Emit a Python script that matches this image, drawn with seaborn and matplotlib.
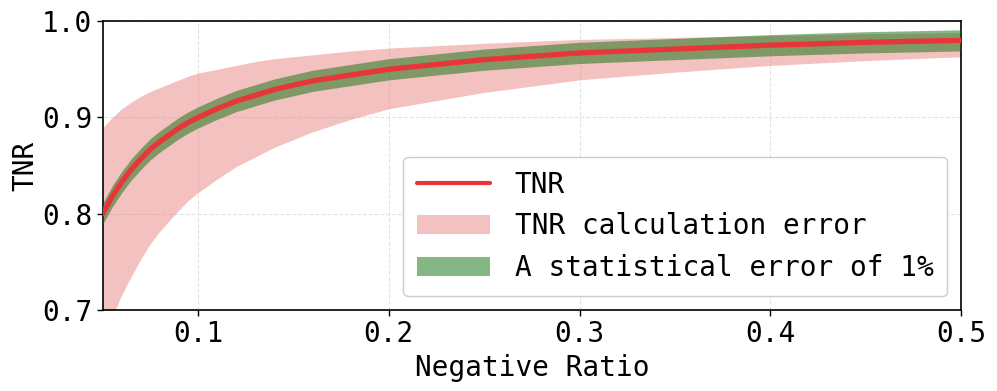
import numpy as np
import pandas as pd
import seaborn as sns
from matplotlib import pyplot as plt

# values
ratio = [0.05, 0.055, 0.06, 0.065, 0.07, 0.075, 0.08, 0.085, 0.09, 0.095,
         0.1, 0.11, 0.12, 0.13, 0.14, 0.16, 0.18, 0.2, 0.25, 0.3,
         0.35, 0.4, 0.45, 0.5]
tnr = [0.800, 0.818, 0.833, 0.846, 0.857, 0.867, 0.875, 0.882, 0.889, 0.895,
       0.900, 0.909, 0.917, 0.923, 0.929, 0.938, 0.944, 0.950, 0.960, 0.967,
       0.971, 0.975, 0.978, 0.980]
calc_hi = [0.889, 0.900, 0.909, 0.916, 0.922, 0.927, 0.931, 0.935, 0.939, 0.943,
           0.946, 0.950, 0.954, 0.958, 0.961, 0.965, 0.969, 0.972, 0.977, 0.981,
           0.983, 0.985, 0.987, 0.988]
calc_lo = [0.668, 0.692, 0.716, 0.735, 0.753, 0.769, 0.782, 0.793, 0.804, 0.814,
           0.822, 0.836, 0.849, 0.859, 0.869, 0.885, 0.898, 0.909, 0.926, 0.939,
           0.947, 0.954, 0.959, 0.963]
stat_hi = [0.811, 0.829, 0.844, 0.857, 0.868, 0.878, 0.886, 0.893, 0.900, 0.906,
           0.911, 0.920, 0.928, 0.934, 0.940, 0.949, 0.955, 0.961, 0.971, 0.978,
           0.982, 0.986, 0.989, 0.991]
stat_lo = [0.789, 0.807, 0.822, 0.835, 0.846, 0.856, 0.864, 0.871, 0.878, 0.884,
           0.889, 0.898, 0.906, 0.912, 0.918, 0.927, 0.933, 0.939, 0.949, 0.956,
           0.960, 0.964, 0.967, 0.969]
xticks = [0.1, 0.2, 0.3, 0.4, 0.5]
yticks = [0.7, 0.8, 0.9, 1.0]

df = pd.DataFrame({'Ratio': ratio, 'TNR': tnr})

sns.set_theme(style='ticks')
plt.rcParams['font.family'] = ['DejaVu Sans Mono', 'DejaVu Sans']
plt.rcParams['text.color'] = 'black'
plt.rcParams['axes.labelcolor'] = 'black'
plt.rcParams['xtick.color'] = 'black'
plt.rcParams['ytick.color'] = 'black'

f, ax = plt.subplots(1, 1, figsize=(9.97, 3.91), dpi=100)
f.subplots_adjust(left=0.103, right=0.964, top=0.946, bottom=0.207)

ax.fill_between(ratio, calc_lo, calc_hi, color='#e98581', alpha=0.5,
                linewidth=0, label='TNR calculation error', zorder=2)
ax.fill_between(ratio, stat_lo, stat_hi, color='#0d710d', alpha=0.5,
                linewidth=0, label='A statistical error of 1%', zorder=3)
sns.lineplot(x='Ratio', y='TNR', data=df, color='#e8353a', linewidth=3.8,
             label='TNR', ax=ax, zorder=4)

ax.set_xlim(0.05, 0.5)
ax.set_ylim(0.7, 1.0)
ax.set_xticks(xticks)
ax.set_xticklabels([f'{t:.1f}' for t in xticks])
ax.set_yticks(yticks)
ax.set_yticklabels([f'{t:.1f}' for t in yticks])
ax.tick_params(labelsize=20, length=4, width=1)
ax.set_xlabel('Negative Ratio', fontsize=20, labelpad=4)
ax.set_ylabel('TNR', fontsize=20, labelpad=2)
ax.grid(color='#e3e3e3', linestyle='--', linewidth=0.8)
for s in ax.spines.values():
    s.set_color('black')
    s.set_linewidth(1.2)

handles, labels = ax.get_legend_handles_labels()
order = [labels.index('TNR'), labels.index('TNR calculation error'),
         labels.index('A statistical error of 1%')]
leg = ax.legend([handles[i] for i in order], [labels[i] for i in order],
                loc='lower right', fontsize=20, handlelength=2.6, handletextpad=0.9,
                labelspacing=0.5, borderpad=0.5, fancybox=True, edgecolor='#cccccc',
                framealpha=1)
leg.get_lines()[0].set_linewidth(3)

plt.savefig('out.png', dpi=100)
